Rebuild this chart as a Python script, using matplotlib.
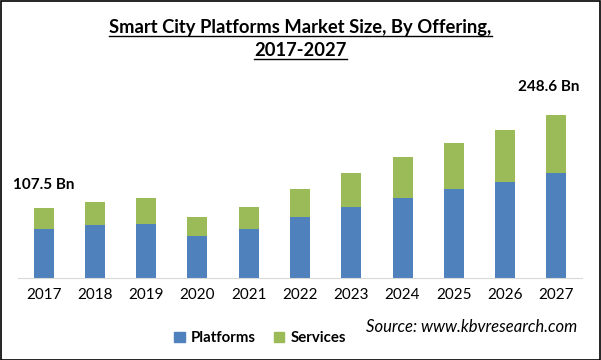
import matplotlib.pyplot as plt
from matplotlib.patches import Patch, Rectangle
from matplotlib.lines import Line2D

# valores (USD Bn)
years = ['2017', '2018', '2019', '2020', '2021', '2022', '2023', '2024', '2025', '2026', '2027']
platforms = [75.3, 80.4, 83.0, 63.6, 74.3, 92.6, 107.9, 121.6, 135.4, 146.1, 159.8]
services = [32.2, 35.1, 38.6, 29.0, 34.7, 43.9, 51.5, 62.2, 70.3, 79.0, 88.8]

blue = '#4F81BD'
green = '#9BBB59'
fonte = 'Lato'

fig = plt.figure(figsize=(6.01, 3.6), dpi=100)
ax = fig.add_axes([18 / 601, 1 - 278 / 360, 564 / 601, 198 / 360])

x = range(len(years))
ax.bar(x, platforms, width=0.39, color=blue)
ax.bar(x, services, width=0.39, bottom=platforms, color=green)

ax.set_xlim(-0.5, 10.5)
ax.set_ylim(0, 302)
ax.set_xticks(list(x))
ax.set_xticklabels(years, fontsize=11, family=fonte)
ax.tick_params(axis='x', length=0, pad=7)
ax.set_yticks([])
for s in ['top', 'right', 'left']:
    ax.spines[s].set_visible(False)
ax.spines['bottom'].set_color('#D9D9D9')

# rotulos do primeiro e ultimo ano
fig.text(13 / 601, 1 - 185 / 360, '107.5 Bn', fontsize=11, fontweight='bold',
         family=fonte, va='center', ha='left')
fig.text(579 / 601, 1 - 87 / 360, '248.6 Bn', fontsize=11, fontweight='bold',
         family=fonte, va='center', ha='right')

# titulo sublinhado
t1 = fig.text(0.5, 1 - 28 / 360, 'Smart City Platforms Market Size, By Offering,',
              fontsize=13.2, fontweight='bold', family=fonte, ha='center', va='center')
t2 = fig.text(0.5, 1 - 51 / 360, '2017-2027', fontsize=13.2, fontweight='bold',
              family=fonte, ha='center', va='center')

fig.text(577 / 601, 1 - 327 / 360, 'Source: www.kbvresearch.com', fontsize=12,
         style='italic', family=fonte, ha='right', va='center')

handles = [Patch(color=blue, label='Platforms'), Patch(color=green, label='Services')]
fig.legend(handles=handles, loc='center', bbox_to_anchor=(0.433, 1 - 338 / 360), ncol=2,
           frameon=False, prop={'family': fonte, 'weight': 'bold', 'size': 10.8},
           handlelength=0.7, handleheight=0.7, handletextpad=0.4, columnspacing=1.2)

# moldura preta em volta
fig.add_artist(Rectangle((0.001, 0.001), 0.997, 0.996, transform=fig.transFigure,
                         fill=False, edgecolor='black', linewidth=1.2))

fig.canvas.draw()
r = fig.canvas.get_renderer()
for t in [t1, t2]:
    bb = t.get_window_extent(renderer=r)
    yy = (bb.y0 + 1) / fig.bbox.height
    fig.add_artist(Line2D([bb.x0 / fig.bbox.width, bb.x1 / fig.bbox.width], [yy, yy],
                          transform=fig.transFigure, color='black', linewidth=1))

fig.savefig('out.png', dpi=100)
